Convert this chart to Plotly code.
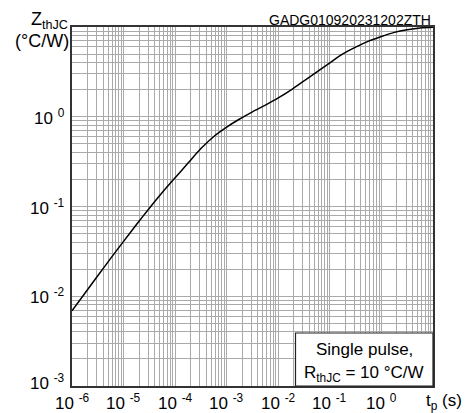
import plotly.graph_objects as go

# Data (single pulse thermal impedance)
t_s = [1e-6, 1.78e-6, 3.16e-6, 5.62e-6, 1e-5, 1.78e-5, 3.16e-5, 5.62e-5,
       1e-4, 1.78e-4, 3.16e-4, 5.62e-4, 1e-3, 1.78e-3, 3.16e-3, 5.62e-3,
       1e-2, 1.78e-2, 3.16e-2, 5.62e-2, 0.1, 0.178, 0.316, 0.562,
       1.0, 1.78, 3.16, 5.62, 10.0]
zth = [0.0069, 0.0108, 0.0169, 0.0264, 0.0409, 0.0631, 0.0955, 0.143,
       0.209, 0.305, 0.442, 0.603, 0.767, 0.944, 1.135, 1.349,
       1.622, 1.995, 2.512, 3.162, 3.981, 5.012, 5.957, 6.966,
       7.852, 8.71, 9.33, 9.77, 9.93]

x_decades = [-6, -5, -4, -3, -2, -1, 0]
x_tick_labels = ["10 <sup>-6</sup>", "10 <sup>-5</sup>", "10 <sup>-4</sup>", "10 <sup>-3</sup>",
                 "10 <sup>-2</sup>", "10 <sup>-1</sup>", "10 <sup>0</sup>"]
y_decades = [-3, -2, -1, 0]
y_tick_labels = ["10 <sup>-3</sup>", "10 <sup>-2</sup>", "10 <sup>-1</sup>", "10 <sup>0</sup>"]

FONT = "Liberation Sans, Arial, sans-serif"
W, H = 468, 413
L, R, T, B = 72, 433, 27, 386

fig = go.Figure()
fig.add_trace(go.Scatter(x=t_s, y=zth, mode="lines",
                         line=dict(color="black", width=1.5, shape="spline", smoothing=0.8),
                         showlegend=False, hoverinfo="skip"))

grid = dict(showgrid=True, gridcolor="#aaaaaa", gridwidth=1, dtick="D1",
            showticklabels=False, ticks="", zeroline=False,
            showline=True, linecolor="#333333", linewidth=1.5, mirror=True)
fig.update_xaxes(type="log", range=[-6, 1], **grid)
fig.update_yaxes(type="log", range=[-3, 1], **grid)

ann = []
for d, lab in zip(x_decades, x_tick_labels):
    ann.append(dict(x=d, y=-(401.5 - B) / (B - T), xref="x", yref="paper", text=lab,
                    showarrow=False, xanchor="center", yanchor="middle",
                    font=dict(family=FONT, size=17, color="black")))
for d, lab in zip(y_decades, y_tick_labels):
    ann.append(dict(x=(67 - L) / (R - L), y=d, xref="paper", yref="y", text=lab,
                    showarrow=False, xanchor="right", yanchor="middle",
                    yshift=4 if d == -3 else 0,
                    font=dict(family=FONT, size=17, color="black")))
ann.append(dict(x=(464 - L) / (R - L), y=-(401.5 - B) / (B - T), xref="paper", yref="paper",
                text="t<sub>p</sub> (s)", showarrow=False, xanchor="right", yanchor="middle",
                font=dict(family=FONT, size=17, color="black")))
ann.append(dict(x=(70 - L) / (R - L), y=(B - 20) / (B - T), xref="paper", yref="paper",
                text="Z<sub>thJC</sub>", showarrow=False, xanchor="right", yanchor="middle",
                font=dict(family=FONT, size=18, color="black")))
ann.append(dict(x=(71 - L) / (R - L), y=(B - 41) / (B - T), xref="paper", yref="paper",
                text="(°C/W)", showarrow=False, xanchor="right", yanchor="middle",
                font=dict(family=FONT, size=18, color="black")))
ann.append(dict(x=1.0, y=(B - 20) / (B - T), xref="paper", yref="paper",
                text="GADG010920231202ZTH", showarrow=False, xanchor="right", yanchor="middle",
                font=dict(family=FONT, size=14, color="black")))
ann.append(dict(x=(364 - L) / (R - L), y=(B - 349) / (B - T), xref="paper", yref="paper",
                text="Single pulse,", showarrow=False, xanchor="center", yanchor="middle",
                font=dict(family=FONT, size=17, color="black")))
ann.append(dict(x=(364 - L) / (R - L), y=(B - 374) / (B - T), xref="paper", yref="paper",
                text="R<sub>thJC</sub> = 10 °C/W", showarrow=False, xanchor="center", yanchor="middle",
                font=dict(family=FONT, size=17, color="black")))

shapes = [dict(type="rect", xref="paper", yref="paper",
               x0=(295.5 - L) / (R - L), x1=1.0, y0=0.0, y1=(B - 333) / (B - T),
               fillcolor="white", line=dict(color="#222222", width=1.2), layer="above")]

fig.update_layout(width=W, height=H, autosize=False,
                  margin=dict(l=L, r=W - R, t=T, b=H - B, pad=0),
                  paper_bgcolor="white", plot_bgcolor="white",
                  annotations=ann, shapes=shapes,
                  font=dict(family=FONT, size=17, color="black"))

fig.write_html("out.html", config={"displayModeBar": False},
               post_script="document.body.style.margin='0';document.body.style.padding='0';")
